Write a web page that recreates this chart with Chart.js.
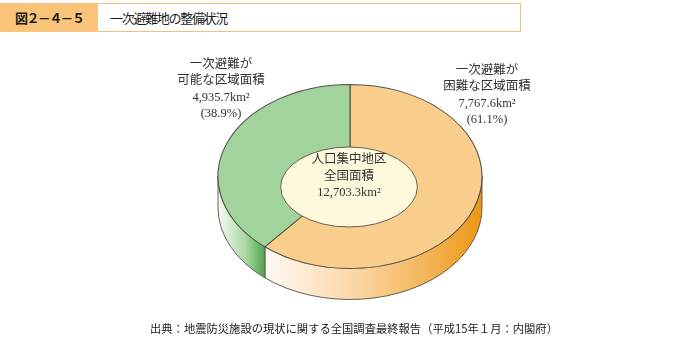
<!DOCTYPE html>
<html><head><meta charset="utf-8">
<script src="https://cdn.jsdelivr.net/npm/chart.js@4/dist/chart.umd.min.js"></script>
<style>
html,body{margin:0;padding:0;background:#fff;}
#wrap{position:relative;width:684px;height:340px;overflow:hidden;font-family:"Noto Sans CJK JP",sans-serif;}
canvas{position:absolute;left:0;top:0;}
.t{position:absolute;white-space:nowrap;color:#2a2a2a;}
#fig{left:0;top:3px;width:98px;height:29px;background:#f9c47a;}
#figtxt{left:15px;top:8px;font-size:13px;font-weight:bold;letter-spacing:-1.6px;color:#1a1a1a;}
#box{left:98px;top:3px;width:422px;height:27px;border:1px solid #f5bf78;border-left:none;background:#fff;}
#ttl{left:110px;top:8px;font-size:13px;letter-spacing:-1.3px;color:#1a1a1a;}
.lab{position:absolute;text-align:center;font-family:"Liberation Serif","Noto Sans CJK JP",serif;font-size:12.5px;line-height:16.3px;color:#333;transform:translateX(-50%);white-space:nowrap;}
#src{left:150px;top:320px;font-size:11.3px;color:#222;}
</style></head>
<body><div id="wrap">
<canvas id="c" width="684" height="340"></canvas>
<div class="t" id="fig"></div><div class="t" id="figtxt"></div>
<div class="t" id="box"></div><div class="t" id="ttl"></div>
<div class="lab" id="labL" style="left:221px;top:56px;"></div>
<div class="lab" id="labR" style="left:487px;top:62px;"></div>
<div class="lab" id="labC" style="left:349px;top:151px;line-height:16.5px;"></div>
<div class="t" id="src"></div>
</div>
<script>
// ---- data ----
const figureNo = '図２－４－５';
const chartTitle = '一次避難地の整備状況';
const categories = ['一次避難が\n困難な区域面積', '一次避難が\n可能な区域面積'];
const areas = [7767.6, 4935.7];          // km2
const shares = [61.1, 38.9];             // %
const totalLabel = ['人口集中地区', '全国面積'];
const totalArea = 12703.3;               // km2
const source = '出典：地震防災施設の現状に関する全国調査最終報告（平成15年１月：内閣府）';

// ---- styles ----
const topColors = ['#f9cd8c', '#a3d39c'];
const sideStops = [
  [[0,'#fffaf4'],[0.4,'#fbd8a8'],[0.75,'#f4b457'],[1,'#ec9612']],
  [[0,'#f6fbf4'],[0.6,'#a9d6a2'],[1,'#4ca64a']]
];
const RATIO = 92/132, DEPTH = 31;

const fmt = v => v.toLocaleString('en-US',{minimumFractionDigits:1,maximumFractionDigits:1});
document.getElementById('figtxt').textContent = figureNo;
document.getElementById('ttl').textContent = chartTitle;
document.getElementById('src').textContent = source;
const mk = i => categories[i].split('\n').join('<br>') + '<br>' + fmt(areas[i]) + 'km²<br>(' + shares[i].toFixed(1) + '%)';
document.getElementById('labR').innerHTML = mk(0);
document.getElementById('labL').innerHTML = mk(1);
document.getElementById('labC').innerHTML = totalLabel.join('<br>') + '<br>' + fmt(totalArea) + 'km²';

const pie3d = {
  id: 'pie3d',
  beforeDatasetsDraw(chart) {
    const ctx = chart.ctx;
    const meta = chart.getDatasetMeta(0);
    let cx = 0, cy = 0;
    meta.data.forEach((arc, i) => {
      const p = arc.getProps(['x','y','startAngle','endAngle','outerRadius'], true);
      cx = p.x; cy = p.y;
      const a1 = Math.max(p.startAngle, 0), a2 = Math.min(p.endAngle, Math.PI);
      if (a2 <= a1) return;
      const R = p.outerRadius, RY = R * RATIO;
      const xl = p.x + R*Math.cos(a2), xr = p.x + R*Math.cos(a1);
      const g = ctx.createLinearGradient(xl, 0, xr, 0);
      sideStops[i].forEach(s => g.addColorStop(s[0], s[1]));
      ctx.save();
      ctx.beginPath();
      ctx.ellipse(p.x, p.y, R, RY, 0, a1, a2, false);
      ctx.lineTo(p.x + R*Math.cos(a2), p.y + RY*Math.sin(a2) + DEPTH);
      ctx.ellipse(p.x, p.y + DEPTH, R, RY, 0, a2, a1, true);
      ctx.closePath();
      ctx.fillStyle = g; ctx.fill();
      ctx.strokeStyle = '#55514a'; ctx.lineWidth = 0.9; ctx.stroke();
      ctx.restore();
    });
    ctx.save();
    ctx.translate(cx, cy); ctx.scale(1, RATIO); ctx.translate(-cx, -cy);
  },
  afterDatasetsDraw(chart) {
    const ctx = chart.ctx;
    ctx.restore();
    const arc = chart.getDatasetMeta(0).data[0];
    const p = arc.getProps(['x','y','outerRadius'], true);
    const R = p.outerRadius;
    ctx.save();
    ctx.beginPath();
    ctx.ellipse(p.x - 1, p.y + 10.5, R*0.518, R*0.303, 0, 0, Math.PI*2);
    ctx.fillStyle = '#fef9dd'; ctx.fill();
    ctx.strokeStyle = '#55514a'; ctx.lineWidth = 0.9; ctx.stroke();
    ctx.restore();
  }
};

new Chart(document.getElementById('c'), {
  type: 'doughnut',
  data: {
    labels: categories,
    datasets: [{
      data: areas,
      backgroundColor: topColors,
      borderColor: '#55514a',
      borderWidth: 1.1,
      borderAlign: 'center'
    }]
  },
  options: {
    responsive: false,
    animation: false,
    devicePixelRatio: 1,
    radius: 132,
    cutout: '27%',
    layout: { padding: { left: 16, right: 0, top: 13, bottom: 0 } },
    plugins: { legend: { display: false }, tooltip: { enabled: false } },
    events: []
  },
  plugins: [pie3d]
});
</script>
</body></html>
